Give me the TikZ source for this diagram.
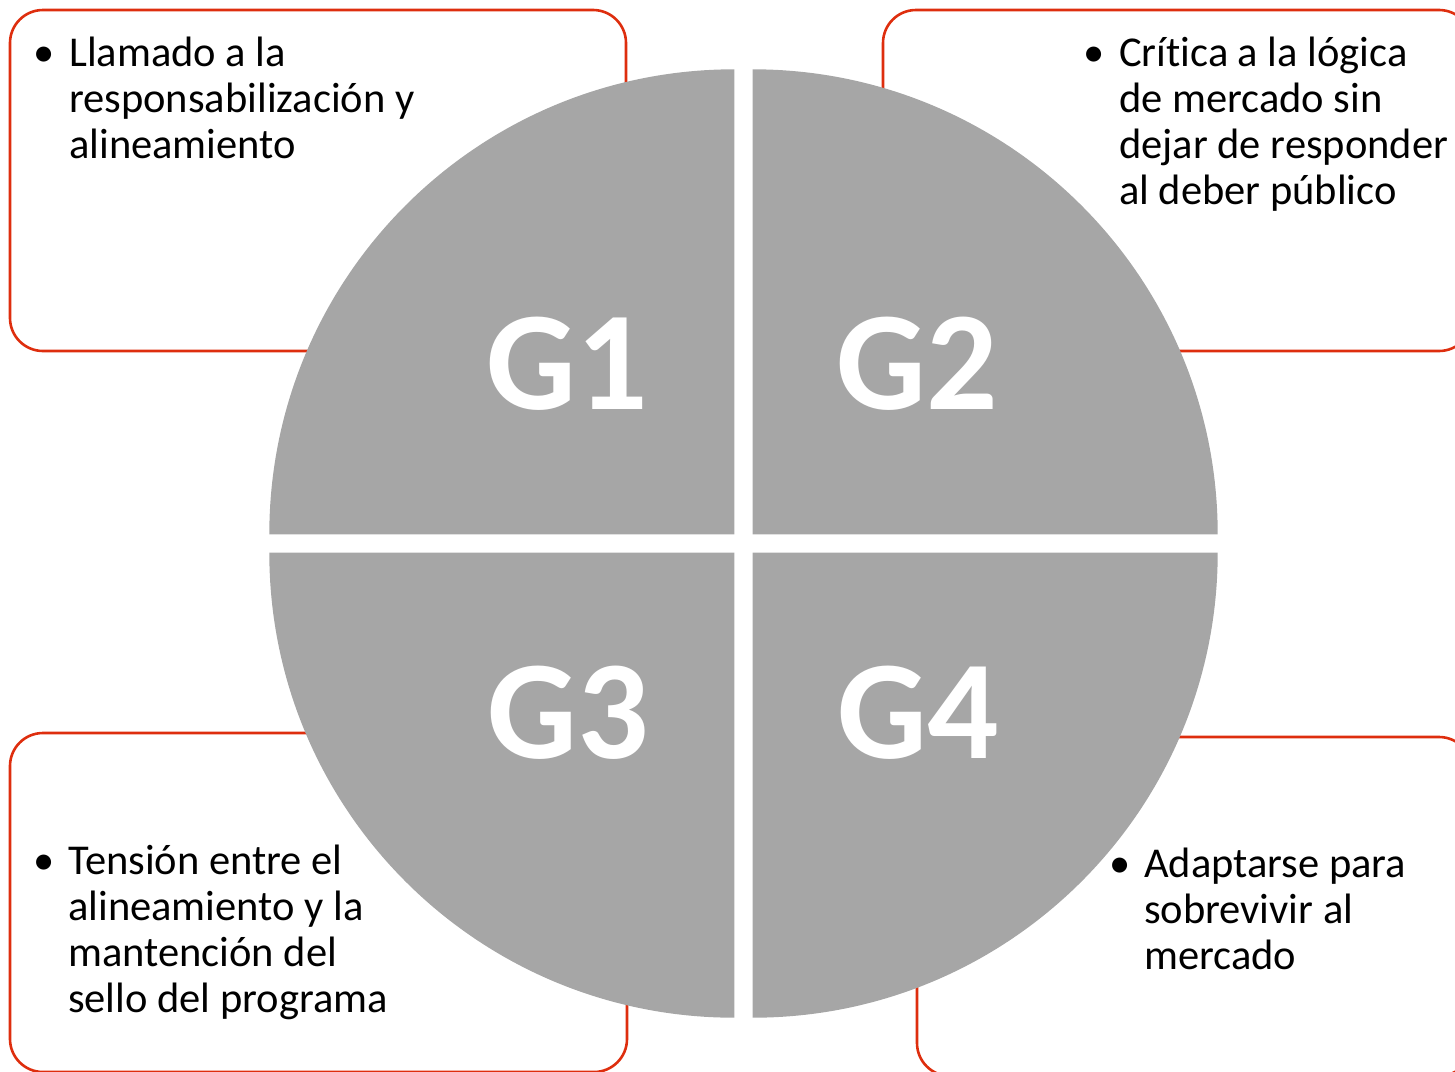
\documentclass[tikz,border=0pt]{standalone}
\usepackage{fontspec}
\setmainfont{Carlito}[Ligatures=NoCommon]
\usepackage{tikz}
\usetikzlibrary{positioning}

\definecolor{boxred}{RGB}{222,46,14}
\definecolor{quadgray}{RGB}{166,166,166}

\tikzset{
    box/.style={draw=boxred,line width=2.6pt,rounded corners=33pt},
    quad/.style={fill=quadgray},
    glabel/.style={text=white,font=\fontsize{141}{141}\selectfont\bfseries,anchor=base,inner sep=0pt},
    btext/.style={anchor=base west,inner sep=0pt,font=\fontsize{42.5}{46}\selectfont}
}
\newcommand{\bitem}[2]{\makebox[#1][l]{\textbullet}\parbox[t]{400pt}{\raggedright #2}}

\begin{document}
\begin{tikzpicture}[x=1pt,y=-1pt]
\useasboundingbox (0,0) rectangle (1455,1071);
\draw[box] (10,10) rectangle (626,351);
\draw[box] (883,10) rectangle (1472,351);
\draw[box] (10,733) rectangle (627,1072);
\draw[box] (917,737) rectangle (1472,1076);
\fill[quad] (734.3,534.3) -- (269.3,534.3) arc[start angle=180,end angle=270,radius=465] -- cycle;
\fill[quad] (752.7,534.3) -- (752.7,69.3) arc[start angle=270,end angle=360,radius=465] -- cycle;
\fill[quad] (734.3,552.7) -- (269.3,552.7) arc[start angle=180,end angle=90,radius=465] -- cycle;
\fill[quad] (752.7,552.7) -- (1217.7,552.7) arc[start angle=0,end angle=90,radius=465] -- cycle;
\node[glabel] (g1) at (567,409) {G1};
\node[glabel] (g2) at (917,409) {G2};
\node[glabel] (g3) at (568,758) {G3};
\node[glabel] (g4) at (918,758) {G4};
\node[btext] (t1) at (33,66) {\bitem{36pt}{Llamado a la\\responsabilización y\\alineamiento}};
\node[btext] (t2) at (1083,66) {\bitem{36pt}{Crítica a la lógica\\de mercado sin\\dejar de responder\\al deber público}};
\node[btext] (t3) at (33,874) {\bitem{35pt}{Tensión entre el\\alineamiento y la\\mantención del\\sello del programa}};
\node[btext] (t4) at (1109,877) {\bitem{35pt}{Adaptarse para\\sobrevivir al\\mercado}};
\end{tikzpicture}
\end{document}
